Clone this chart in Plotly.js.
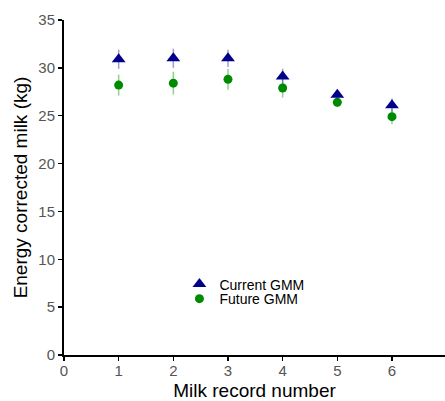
<!DOCTYPE html>
<html>
<head>
<meta charset="utf-8">
<script src="https://cdn.plot.ly/plotly-3.0.1.min.js"></script>
<style>html,body{margin:0;padding:0;background:#fff;}#chart{width:445px;height:401px;}</style>
</head>
<body>
<div id="chart"></div>
<script>
const recordNumbers = [1, 2, 3, 4, 5, 6];
const currentGMM = [30.9, 31.0, 31.0, 29.1, 27.2, 26.1];
const currentErr = [1.0, 1.0, 0.9, 0.8, 0.5, 0.7];
const futureGMM = [28.2, 28.4, 28.8, 27.9, 26.4, 24.9];
const futureErr = [1.1, 1.2, 1.1, 1.0, 0.5, 0.8];
const xTicks = [0, 1, 2, 3, 4, 5, 6];
const yTicks = [0, 5, 10, 15, 20, 25, 30, 35];

const font = "Liberation Sans, Arial, Helvetica, sans-serif";

const traces = [
  {
    x: recordNumbers, y: futureGMM, name: "Future GMM", type: "scatter", mode: "markers",
    marker: {symbol: "circle", size: 9, color: "#008a00"},
    error_y: {type: "data", array: futureErr, visible: true, color: "rgba(0,160,0,0.45)", thickness: 1.5, width: 0},
    legend: "legend2"
  },
  {
    x: recordNumbers, y: currentGMM, name: "Current GMM", type: "scatter", mode: "markers",
    marker: {symbol: "triangle-up", size: 12, color: "#00008b"},
    error_y: {type: "data", array: currentErr, visible: true, color: "rgba(40,40,160,0.45)", thickness: 1.5, width: 0},
    legend: "legend"
  }
];

const legendStyle = {xanchor: "left", yanchor: "middle", bgcolor: "rgba(0,0,0,0)",
  font: {family: font, size: 14, color: "#000"}, itemwidth: 30};

const layout = {
  width: 445, height: 401,
  margin: {l: 64, r: 0, t: 19.5, b: 45.5},
  paper_bgcolor: "#fff", plot_bgcolor: "#fff",
  font: {family: font, size: 14, color: "#000"},
  showlegend: true,
  legend: Object.assign({x: 0.303, y: 0.2104}, legendStyle),
  legend2: Object.assign({x: 0.303, y: 0.167}, legendStyle),
  xaxis: {
    range: [0, 6.97], tickvals: xTicks, ticktext: xTicks.map(String),
    showgrid: false, zeroline: false, showline: true, linecolor: "#000", linewidth: 2,
    ticks: "outside", ticklen: 4, tickcolor: "#000", tickwidth: 1.5,
    ticklabelstandoff: -3,
    tickfont: {family: font, size: 15, color: "#555"},
    title: {text: "Milk record number", font: {family: font, size: 19, color: "#000"}, standoff: 9}
  },
  yaxis: {
    range: [0, 35], tickvals: yTicks, ticktext: yTicks.map(String),
    showgrid: false, zeroline: false, showline: true, linecolor: "#000", linewidth: 2,
    ticks: "outside", ticklen: 4, tickcolor: "#000", tickwidth: 1.5,
    tickfont: {family: font, size: 15, color: "#555"},
    title: {text: "Energy corrected milk (kg)", font: {family: font, size: 19, color: "#000"}, standoff: 6}
  }
};

Plotly.newPlot("chart", traces, layout, {staticPlot: true, displayModeBar: false});
</script>
</body>
</html>
